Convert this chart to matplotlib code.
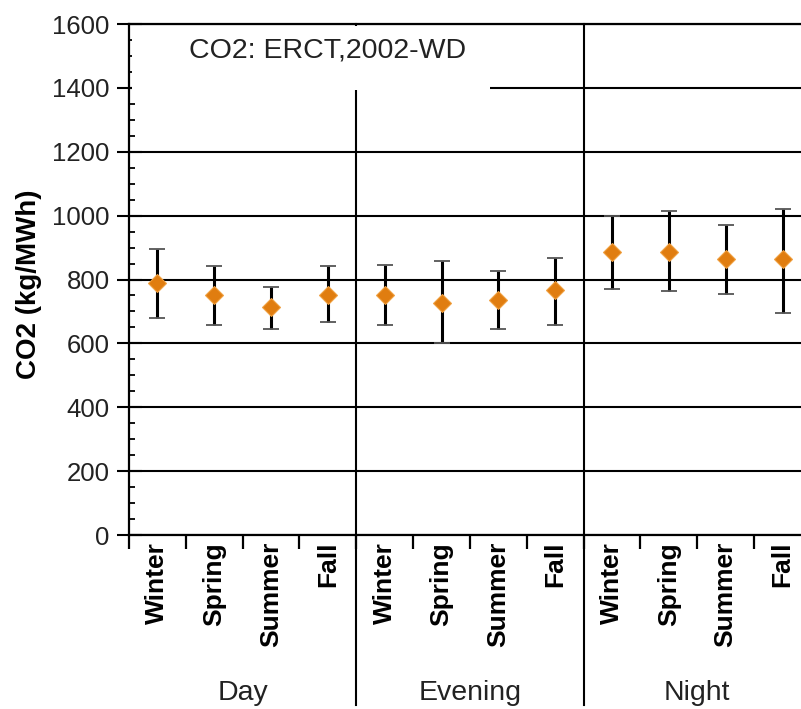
import matplotlib.pyplot as plt
import numpy as np
from matplotlib.patches import Rectangle
import matplotlib.transforms as mtransforms

plt.rcParams['font.family'] = ['Liberation Sans', 'DejaVu Sans']

periods = ["Day", "Evening", "Night"]
seasons = ["Winter", "Spring", "Summer", "Fall"]

day_mean = [790, 751, 714, 751]
day_upper = [895, 843, 777, 843]
day_lower = [680, 658, 644, 667]

evening_mean = [752, 727, 737, 767]
evening_upper = [844, 859, 827, 866]
evening_lower = [658, 600, 644, 658]

night_mean = [885, 885, 863, 863]
night_upper = [999, 1013, 970, 1021]
night_lower = [769, 763, 755, 694]

title_text = "CO2: ERCT,2002-WD"
ylabel_text = "CO2 (kg/MWh)"

mean = np.array(day_mean + evening_mean + night_mean)
upper = np.array(day_upper + evening_upper + night_upper)
lower = np.array(day_lower + evening_lower + night_lower)
x = np.arange(len(mean)) + 0.5

fig = plt.figure(figsize=(8.01, 7.09), dpi=100)
ax = fig.add_axes([0.161, 0.2454, 0.8514, 0.7207])

ax.set_xlim(0, 12)
ax.set_ylim(0, 1600)

# horizontal grid
ax.set_axisbelow(True)
ax.yaxis.grid(True, color='black', linewidth=1.5, zorder=0.5)

# group separators, running down into the label area
for sep in [4, 8]:
    ax.axvline(sep, ymin=-0.333, ymax=1, color='black', linewidth=1.5,
               clip_on=False, zorder=0.8)

# white box behind the title hides part of the grid
ax.add_patch(Rectangle((0.06, 1395), 6.3, 200, facecolor='white',
                       edgecolor='none', zorder=1))
ax.text(3.5, 1518, title_text, ha='center', va='center', fontsize=20.5,
        color='#222222', zorder=3)

ax.errorbar(x, mean, yerr=[mean - lower, upper - mean], fmt='none',
            ecolor='black', elinewidth=2.2, capsize=0, zorder=3)
ax.plot(x, upper, '_', color='#555555', markersize=12,
        markeredgewidth=1.3, zorder=3)
ax.plot(x, lower, '_', color='#555555', markersize=12,
        markeredgewidth=1.3, zorder=3)
ax.plot(x, mean, linestyle='none', marker='D', markersize=9.5,
        color='#E07D10', markeredgecolor='#F0A040', markeredgewidth=0.8,
        zorder=4)

ax.spines['right'].set_visible(False)
for s in ['left', 'bottom', 'top']:
    ax.spines[s].set_linewidth(1.6)
    ax.spines[s].set_zorder(5)

# y ticks
ax.set_yticks(np.arange(0, 1601, 200))
ax.set_yticks(np.arange(0, 1601, 50), minor=True)
ax.tick_params(axis='y', which='major', direction='inout', length=18,
               width=1.5, labelsize=18.5, pad=5, labelcolor='#222222')
ax.tick_params(axis='y', which='minor', direction='in', length=4, width=1.3)

# x ticks: marks at the boundaries, labels in between
ax.set_xticks(np.arange(0, 13))
ax.set_xticklabels([])
ax.set_xticks(x, minor=True)
ax.set_xticklabels(seasons * 3, minor=True, rotation=90, fontsize=19,
                   fontweight='bold', va='top')
ax.tick_params(axis='x', which='major', direction='out', length=10,
               width=1.6)
ax.tick_params(axis='x', which='minor', length=0, pad=5)

ax.set_ylabel(ylabel_text, fontsize=20, fontweight='bold')
ax.yaxis.set_label_coords(-0.127, 0.49)

trans = mtransforms.blended_transform_factory(ax.transData, ax.transAxes)
for i, p in enumerate(periods):
    ax.text(4 * i + 2, -0.309, p, transform=trans, ha='center', va='center',
            fontsize=20.5, color='#222222')

fig.savefig("out.png", dpi=100)
